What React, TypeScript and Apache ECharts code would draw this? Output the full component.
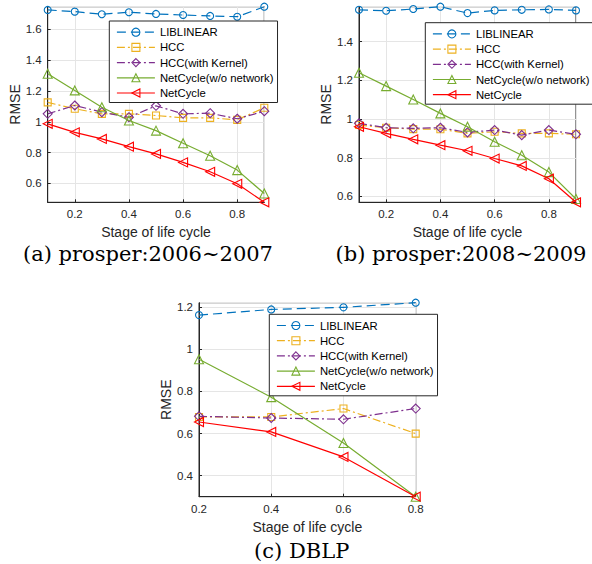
import React, { useEffect, useRef } from "react";
import * as echarts from "echarts";

// ---------- data ----------
const seriesNames = ["LIBLINEAR", "HCC", "HCC(with Kernel)", "NetCycle(w/o network)", "NetCycle"];

const stagesAB = [0.1, 0.2, 0.3, 0.4, 0.5, 0.6, 0.7, 0.8, 0.9];
const stagesC = [0.2, 0.4, 0.6, 0.8];

// (a) prosper:2006~2007
const libA = [1.726, 1.715, 1.698, 1.711, 1.7, 1.693, 1.687, 1.682, 1.747];
const hccA = [1.126, 1.085, 1.052, 1.052, 1.041, 1.026, 1.026, 1.013, 1.091];
const hcckA = [1.052, 1.106, 1.063, 1.03, 1.104, 1.052, 1.056, 1.02, 1.069];
const ncwA = [1.312, 1.204, 1.095, 1.009, 0.943, 0.861, 0.78, 0.687, 0.535];
const ncA = [0.987, 0.932, 0.889, 0.839, 0.792, 0.737, 0.676, 0.598, 0.478];

// (b) prosper:2008~2009
const libB = [1.564, 1.559, 1.568, 1.58, 1.547, 1.561, 1.564, 1.566, 1.561];
const hccB = [0.969, 0.955, 0.948, 0.947, 0.926, 0.934, 0.926, 0.926, 0.921];
const hcckB = [0.978, 0.955, 0.952, 0.955, 0.931, 0.943, 0.917, 0.943, 0.921];
const ncwB = [1.239, 1.17, 1.101, 1.029, 0.96, 0.883, 0.813, 0.726, 0.587];
const ncB = [0.96, 0.926, 0.895, 0.865, 0.836, 0.796, 0.758, 0.692, 0.57];

// (c) DBLP
const libC = [1.163, 1.19, 1.2, 1.222];
const hccC = [0.679, 0.679, 0.719, 0.6];
const hcckC = [0.682, 0.674, 0.668, 0.719];
const ncwC = [0.953, 0.773, 0.555, 0.3];
const ncC = [0.655, 0.608, 0.489, 0.3];

const captions = ["(a) prosper:2006\u223C2007", "(b) prosper:2008\u223C2009", "(c) DBLP"];
const xName = "Stage of life cycle";
const yName = "RMSE";

// ---------- styles ----------
const colors = ["#0072BD", "#EDB120", "#7E2F8E", "#77AC30", "#FF0000"];
const symbols = [
  "circle",
  "rect",
  "diamond",
  "triangle",
  "path://M0,5L10,0L10,10Z",
];
const symbolSizes = [7, 7, 9, 9, 9];
const dashes: any[] = [[9, 5], [8, 3, 2, 3], [8, 3, 2, 3], "solid", "solid"];

const grids = [
  { left: 47.7, top: 6.7, width: 216.6, height: 195.6 },
  { left: 359, top: 6.7, width: 217, height: 195.6 },
  { left: 199, top: 302.7, width: 216.7, height: 194 },
];
const xRanges = [
  [0.1, 0.9],
  [0.1, 0.9],
  [0.2, 0.8],
];
const yRanges = [
  [0.478, 1.747],
  [0.57, 1.58],
  [0.3, 1.222],
];
const legendPos = [
  { left: 109.3, top: 21 },
  { left: 425.3, top: 22.7 },
  { left: 269.3, top: 314.3 },
];
const captionPos = [
  [148, 254],
  [461, 254],
  [301.7, 550.5],
];

const FONT = "Liberation Sans";
const AXIS_COLOR = "#262626";

export default function App() {
  const ref = useRef<HTMLDivElement>(null);

  useEffect(() => {
    if (!ref.current) return;
    const chart = echarts.init(ref.current, null, { renderer: "svg" });

    const panels = [
      { xs: stagesAB, ys: [libA, hccA, hcckA, ncwA, ncA] },
      { xs: stagesAB, ys: [libB, hccB, hcckB, ncwB, ncB] },
      { xs: stagesC, ys: [libC, hccC, hcckC, ncwC, ncC] },
    ];

    const xAxis: any[] = [];
    const yAxis: any[] = [];
    const series: any[] = [];
    const legend: any[] = [];

    panels.forEach((p, gi) => {
      const isC = gi === 2;
      xAxis.push({
        type: "value",
        gridIndex: gi,
        min: xRanges[gi][0],
        max: xRanges[gi][1],
        minInterval: 0.2,
        maxInterval: 0.2,
        name: xName,
        nameLocation: "middle",
        nameGap: 23,
        nameTextStyle: { fontFamily: FONT, fontSize: 14, color: AXIS_COLOR },
        axisLine: { lineStyle: { color: AXIS_COLOR, width: 1 } },
        axisTick: { inside: true, length: 3, lineStyle: { color: AXIS_COLOR } },
        axisLabel: {
          fontFamily: FONT,
          fontSize: 11.5,
          color: AXIS_COLOR,
          margin: 6,
          showMinLabel: isC,
          showMaxLabel: isC,
        },
        splitLine: { show: true, lineStyle: { color: "#e5e5e5", width: 1 } },
      });
      yAxis.push({
        type: "value",
        gridIndex: gi,
        min: yRanges[gi][0],
        max: yRanges[gi][1],
        minInterval: 0.2,
        maxInterval: 0.2,
        name: yName,
        nameLocation: "middle",
        nameGap: isC ? 26 : 25,
        nameTextStyle: { fontFamily: FONT, fontSize: 14, color: AXIS_COLOR },
        axisLine: { show: true, lineStyle: { color: AXIS_COLOR, width: 1 } },
        axisTick: { show: true, inside: true, length: 3, lineStyle: { color: AXIS_COLOR } },
        axisLabel: {
          fontFamily: FONT,
          fontSize: 11.5,
          color: AXIS_COLOR,
          margin: 6,
          showMinLabel: false,
          showMaxLabel: false,
        },
        splitLine: { show: true, lineStyle: { color: "#e5e5e5", width: 1 } },
      });
      p.ys.forEach((vals, si) => {
        series.push({
          type: "line",
          name: seriesNames[si],
          xAxisIndex: gi,
          yAxisIndex: gi,
          data: p.xs.map((x, i) => [x, vals[i]]),
          symbol: symbols[si],
          symbolSize: symbolSizes[si],
          showSymbol: true,
          lineStyle: { color: colors[si], width: 1.2, type: dashes[si] },
          itemStyle: { color: "rgba(255,255,255,0)", borderColor: colors[si], borderWidth: 1.1 },
          emphasis: { disabled: true },
          z: 2 + si,
        });
      });
      legend.push({
        orient: "vertical",
        left: legendPos[gi].left,
        top: legendPos[gi].top,
        itemWidth: 38,
        itemHeight: 10,
        itemGap: 4.2,
        padding: [5.7, 4, 4, 7],
        borderColor: AXIS_COLOR,
        borderWidth: 1,
        backgroundColor: "#ffffff",
        selectedMode: false,
        lineStyle: { width: 1.2 },
        itemStyle: { color: "rgba(255,255,255,0)", borderWidth: 1.1 },
        textStyle: { fontFamily: FONT, fontSize: 11.3, color: "#000" },
        data: seriesNames,
        z: 10,
      });
    });

    const graphic: any[] = captions.map((t, i) => ({
      type: "text",
      x: captionPos[i][0],
      y: captionPos[i][1],
      style: {
        text: t,
        fontFamily: "DejaVu Serif",
        fontSize: 21,
        fill: "#000",
        textAlign: "center",
        textVerticalAlign: "middle",
      },
    }));

    chart.setOption({
      animation: false,
      backgroundColor: "#ffffff",
      grid: grids.map((g) => ({
        ...g,
        show: true,
        borderColor: AXIS_COLOR,
        borderWidth: 1,
        backgroundColor: "transparent",
      })),
      xAxis,
      yAxis,
      legend,
      series,
      graphic,
    });

    return () => chart.dispose();
  }, []);

  return (
    <div
      ref={ref}
      style={{ position: "fixed", left: 0, top: 0, width: 592, height: 564, background: "#fff" }}
    />
  );
}
